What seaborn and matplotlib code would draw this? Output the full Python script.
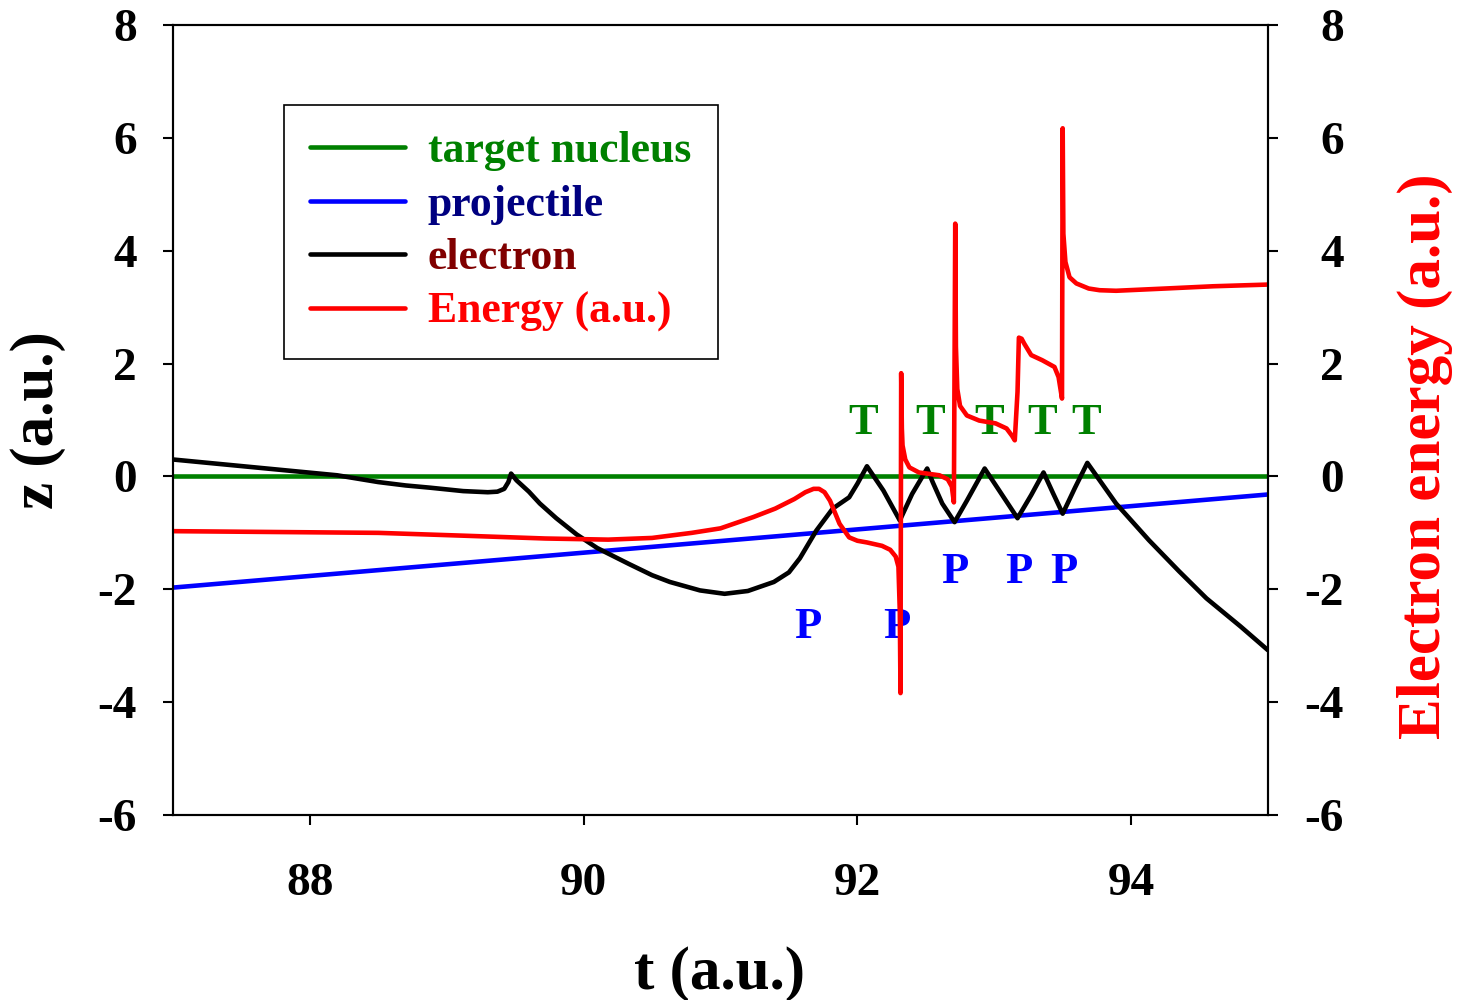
import numpy as np
import pandas as pd
import seaborn as sns
import matplotlib
matplotlib.use("Agg")
import matplotlib.pyplot as plt

# ---------------- data ----------------
target_t = [87.0, 95.0]
target_z = [0.0, 0.0]

proj_t = [87.0, 95.0]
proj_z = [-1.97, -0.32]

elec_t = [87.0, 87.6, 88.2, 88.5, 88.7, 88.88, 89.12, 89.30, 89.37, 89.42, 89.45, 89.47,
          89.51, 89.60, 89.68, 89.80, 89.95, 90.10, 90.33, 90.50, 90.63, 90.85, 91.03, 91.20, 91.39,
          91.50, 91.58, 91.70, 91.82, 91.94, 92.00, 92.07, 92.19, 92.31, 92.40,
          92.51, 92.55, 92.62, 92.71, 92.80, 92.93, 93.05, 93.17, 93.27, 93.36,
          93.43, 93.50, 93.59, 93.68, 93.89, 94.13, 94.35, 94.55, 94.80, 95.0]
elec_z = [0.30, 0.16, 0.02, -0.10, -0.16, -0.20, -0.26, -0.28, -0.27, -0.22, -0.10, 0.05,
          -0.07, -0.27, -0.48, -0.74, -1.03, -1.27, -1.55, -1.75, -1.87, -2.02, -2.08, -2.03, -1.87,
          -1.70, -1.45, -0.96, -0.57, -0.37, -0.13, 0.18, -0.25, -0.78, -0.31,
          0.14, -0.10, -0.48, -0.81, -0.43, 0.14, -0.30, -0.74, -0.33, 0.07,
          -0.30, -0.66, -0.20, 0.24, -0.48, -1.13, -1.68, -2.16, -2.66, -3.08]

energy_t = [87.0, 88.0, 88.5, 89.12, 89.72, 90.18, 90.5, 90.79, 91.0, 91.24,
            91.40, 91.54, 91.62, 91.68, 91.72, 91.76, 91.80, 91.87, 91.94, 92.00, 92.07, 92.18, 92.24, 92.28,
            92.30, 92.31, 92.315, 92.32, 92.325, 92.33, 92.35, 92.38, 92.45, 92.60, 92.66,
            92.69, 92.705, 92.715, 92.72, 92.73, 92.75, 92.80, 92.89, 93.01, 93.09, 93.13,
            93.15, 93.17, 93.18, 93.20, 93.22, 93.27, 93.35, 93.44, 93.47, 93.495, 93.50,
            93.505, 93.52, 93.55, 93.60, 93.69, 93.77, 93.89, 94.25, 94.6, 95.0]
energy_e = [-0.97, -0.99, -1.00, -1.05, -1.10, -1.12, -1.09, -1.00, -0.92, -0.72,
            -0.57, -0.40, -0.28, -0.22, -0.22, -0.28, -0.43, -0.84, -1.08, -1.14, -1.17, -1.23, -1.30, -1.42,
            -1.60, -2.40, -3.84, 1.83, 0.85, 0.55, 0.30, 0.16, 0.07, 0.02, -0.05,
            -0.18, -0.46, 4.48, 2.30, 1.55, 1.25, 1.08, 0.99, 0.94, 0.85, 0.72,
            0.64, 1.50, 2.46, 2.44, 2.35, 2.15, 2.06, 1.94, 1.76, 1.38, 6.17,
            4.30, 3.80, 3.53, 3.42, 3.33, 3.30, 3.29, 3.33, 3.37, 3.40]

t_label_x = [92.04, 92.53, 92.96, 93.35, 93.67]
t_label_y = [0.76, 0.76, 0.76, 0.76, 0.76]
p_label_x = [91.64, 92.29, 92.71, 93.18, 93.51]
p_label_y = [-2.87, -2.87, -1.88, -1.88, -1.88]

x_ticks = [88, 90, 92, 94]
y_ticks = [-6, -4, -2, 0, 2, 4, 6, 8]

legend_labels = ["target nucleus", "projectile", "electron", "Energy (a.u.)"]
legend_text_colors = ["#008000", "#000080", "#800000", "#FF0000"]

# ---------------- style ----------------
sns.set_style("ticks")
plt.rcParams["font.family"] = ["Liberation Serif", "DejaVu Serif"]
plt.rcParams["font.weight"] = "bold"
plt.rcParams["axes.unicode_minus"] = False
plt.rcParams["axes.labelcolor"] = "black"
plt.rcParams["text.color"] = "black"

fig = plt.figure(figsize=(14.62, 10), dpi=100)
ax = fig.add_axes([173 / 1462, 0.185, 1095 / 1462, 0.79])
ax2 = ax.twinx()

LW = 3.3
handles = []
df_tg = pd.DataFrame({"t": target_t, "z": target_z})
sns.lineplot(data=df_tg, x="t", y="z", ax=ax, color="#008000", linewidth=LW,
             estimator=None, sort=False, legend=False)
handles.append(ax.lines[-1])
df_pr = pd.DataFrame({"t": proj_t, "z": proj_z})
sns.lineplot(data=df_pr, x="t", y="z", ax=ax, color="#0000FF", linewidth=LW,
             estimator=None, sort=False, legend=False)
handles.append(ax.lines[-1])
df_el = pd.DataFrame({"t": elec_t, "z": elec_z})
sns.lineplot(data=df_el, x="t", y="z", ax=ax, color="black", linewidth=LW,
             estimator=None, sort=False, legend=False)
handles.append(ax.lines[-1])
df_en = pd.DataFrame({"t": energy_t, "E": energy_e})
sns.lineplot(data=df_en, x="t", y="E", ax=ax2, color="#FF0000", linewidth=LW,
             estimator=None, sort=False, legend=False)
handles.append(ax2.lines[-1])
for h in handles:
    h.set_linewidth(LW)
    h.set_solid_joinstyle("round")
    h.set_solid_capstyle("round")

for x, y in zip(t_label_x, t_label_y):
    ax.text(x, y, "T", color="#008000", fontsize=32, fontweight="bold",
            ha="center", va="baseline")
for x, y in zip(p_label_x, p_label_y):
    ax.text(x, y, "P", color="#0000FF", fontsize=32, fontweight="bold",
            ha="center", va="baseline")

for a in (ax, ax2):
    a.set_xlim(87, 95)
    a.set_ylim(-6, 8)
    a.set_yticks(y_ticks)
    for s in a.spines.values():
        s.set_linewidth(1.5)
        s.set_color("black")
        s.set_visible(True)

ax.set_xticks(x_ticks)
ax.set_xticklabels([str(v) for v in x_ticks])
ax.set_yticklabels([str(v) for v in y_ticks])
ax2.set_yticklabels([str(v) for v in y_ticks])

ax.tick_params(axis="both", which="major", direction="out", length=7.5,
               width=1.5, labelsize=34, pad=18.5, colors="black",
               top=False, right=False)
ax.tick_params(axis="x", pad=27)
ax2.tick_params(axis="y", which="major", direction="out", length=7.5,
                width=1.5, labelsize=34, pad=47, colors="black")
for lbl in ax2.get_yticklabels():
    lbl.set_horizontalalignment("right")
for lbl in ax.get_xticklabels() + ax.get_yticklabels() + ax2.get_yticklabels():
    lbl.set_fontweight("bold")

ax.set_xlabel("t (a.u.)", fontsize=44, fontweight="bold", color="black")
ax.xaxis.set_label_coords(0.4995, -0.166)
ax.set_ylabel("z (a.u.)", fontsize=44, fontweight="bold", color="black")
ax.yaxis.set_label_coords(-0.0977, 0.5)
ax2.set_ylabel("Electron energy (a.u.)", fontsize=44, fontweight="bold",
               color="#FF0000")
ax2.yaxis.set_label_coords(1.1178, 0.4544)

leg = ax2.legend(handles, legend_labels, loc="upper left",
                 bbox_to_anchor=(0.1014, 0.8987), borderaxespad=0,
                 frameon=True, fancybox=False, framealpha=1,
                 edgecolor="black", prop={"size": 31.5, "weight": "bold"},
                 handlelength=2.17, handletextpad=0.52, borderpad=0.6,
                 labelspacing=0.31)
leg.get_frame().set_linewidth(1.2)
for txt, c in zip(leg.get_texts(), legend_text_colors):
    txt.set_color(c)

fig.savefig("out.png", dpi=100, facecolor="white")
